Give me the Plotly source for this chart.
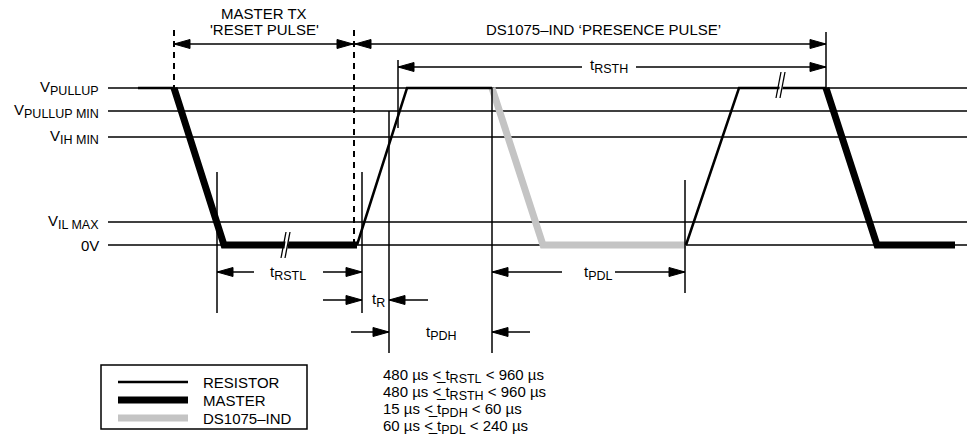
import plotly.graph_objects as go

SUB = 12.5
def sub(s):
    return f'<sub><span style="font-size:{SUB}px">{s}</span></sub>'

# ---------------- data ----------------
level_names = ["V" + sub("PULLUP"), "V" + sub("PULLUP MIN"), "V" + sub("IH MIN"),
               "V" + sub("IL MAX"), "0V"]
level_values = [5.0, 4.27, 3.44, 0.73, 0.0]   # volts (relative)

VP = level_values[0]
# waveform segments (time units, volts)
resistor_pre_t = [138, 174]
resistor_pre_v = [VP, VP]
master1_t = [174, 224, 357]
master1_v = [VP, 0.0, 0.0]
resistor1_t = [357, 407, 492]
resistor1_v = [0.0, VP, VP]
ds_t = [492, 543, 686]
ds_v = [VP, 0.0, 0.0]
resistor2_t = [686, 739, 826]
resistor2_v = [0.0, VP, VP]
master2_t = [826, 877, 955]
master2_v = [VP, 0.0, 0.0]

LE = "&lt;&#818;"
conditions = [
    f"480 µs {LE} t{sub('RSTL')} &lt; 960 µs",
    f"480 µs {LE} t{sub('RSTH')} &lt; 960 µs",
    f"15 µs {LE} t{sub('PDH')} &lt; 60 µs",
    f"60 µs {LE} t{sub('PDL')} &lt; 240 µs",
]
legend_labels = ["RESISTOR", "MASTER", "DS1075–IND"]

# ---------------- geometry helpers ----------------
W, H = 967, 439
S = 31.4          # px per volt
Y0 = 245.0        # pixel row of 0 V
def V(py):        # pixel row -> volts
    return (Y0 - py) / S

FONT = "Liberation Sans, Arial, Helvetica, sans-serif"
FS = 15
BLACK = "#000000"
GRAY = "#c4c4c4"

fig = go.Figure()

def line(xs, ys, width, color=BLACK, dash=None):
    fig.add_trace(go.Scatter(x=xs, y=ys, mode="lines", hoverinfo="skip",
                             line=dict(color=color, width=width, dash=dash),
                             showlegend=False))

# reference level lines
for v in level_values:
    line([108, 967], [v, v], 1.5)

# waveforms
line(resistor_pre_t, resistor_pre_v, 2.5)
line(ds_t, ds_v, 7, GRAY)
line(master1_t, master1_v, 7)
line(resistor1_t, resistor1_v, 2.5)
line(resistor2_t, resistor2_v, 2.5)
line(master2_t, master2_v, 7)

shapes = []
def seg(x0, y0, x1, y1, w=1.5, dash=None, color=BLACK):
    shapes.append(dict(type="line", xref="x", yref="y", x0=x0, y0=V(y0), x1=x1, y1=V(y1),
                       line=dict(color=color, width=w, dash=dash)))

def head(xtip, py, direction):
    # filled triangular arrowhead, direction +1 points right, -1 points left
    L, hw = 16, 4.5
    xb = xtip - direction * L
    path = f"M {xtip},{V(py)} L {xb},{V(py - hw)} L {xb},{V(py + hw)} Z"
    shapes.append(dict(type="path", xref="x", yref="y", path=path,
                       fillcolor=BLACK, line=dict(color=BLACK, width=1)))

# dashed verticals
seg(174, 30, 174, 88, 2, "6px,5px")
seg(354, 30, 354, 245, 2, "6px,5px")

# solid verticals
seg(826, 32, 826, 88)
seg(398, 60, 398, 128)
seg(217, 172, 217, 313)
seg(362, 172, 362, 313)
seg(389, 111, 389, 353)
seg(492, 88, 492, 353)
seg(685, 180, 685, 293)

# top arrows
seg(174, 44, 354, 44); head(174, 44, -1); head(353, 44, 1)
seg(355, 44, 826, 44); head(355, 44, -1); head(826, 44, 1)
# tRSTH
seg(398, 67, 582, 67); seg(636, 67, 826, 67); head(398, 67, -1); head(826, 67, 1)
# tRSTL
seg(217, 272, 254, 272); head(217, 272, -1)
seg(323, 272, 362, 272); head(362, 272, 1)
# tR
seg(323, 300, 362, 300); head(362, 300, 1)
seg(428, 300, 389, 300); head(389, 300, -1)
# tPDH
seg(351, 332, 389, 332); head(389, 332, 1)
seg(530, 332, 492, 332); head(492, 332, -1)
# tPDL
seg(562, 272, 492, 272); head(492, 272, -1)
seg(615, 272, 685, 272); head(685, 272, 1)

# break marks
def brk(xc, ytop, ybot):
    shapes.append(dict(type="path", xref="x", yref="y",
                       path=f"M {xc-4},{V(ybot)} L {xc},{V(ytop)} L {xc+3},{V(ytop)} L {xc-1},{V(ybot)} Z",
                       fillcolor="white", line=dict(width=0)))
    seg(xc - 6, ybot, xc - 1, ytop, 1.3)
    seg(xc - 2, ybot, xc + 3, ytop, 1.3)
brk(287, 232, 258)
brk(782, 72, 98)

# legend box
shapes.append(dict(type="rect", xref="x", yref="y", x0=101, x1=307, y0=V(365), y1=V(429),
                   line=dict(color=BLACK, width=1.5), fillcolor="rgba(0,0,0,0)"))
seg(118, 382, 188, 382, 2.5)
seg(118, 400, 188, 400, 7)
seg(118, 418, 188, 418, 7, None, GRAY)

annotations = []
def txt(x, py, s, anchor="center", size=FS):
    annotations.append(dict(x=x, y=V(py), xref="x", yref="y", text=s, showarrow=False,
                            xanchor=anchor, yanchor="middle",
                            font=dict(family=FONT, size=size, color=BLACK)))

for name, v in zip(level_names, level_values):
    annotations.append(dict(x=101, y=v, xref="x", yref="y", text=name, showarrow=False,
                            xanchor="right", yanchor="middle",
                            font=dict(family=FONT, size=FS, color=BLACK)))

txt(264, 13, "MASTER TX")
txt(264, 29, "'RESET PULSE'")
txt(603, 29, "DS1075–IND ‘PRESENCE PULSE’")
txt(609, 66, "t" + sub("RSTH"))
txt(288, 273, "t" + sub("RSTL"))
txt(378, 300, "t" + sub("R"))
txt(441, 333, "t" + sub("PDH"))
txt(598, 273, "t" + sub("PDL"))

for i, s in enumerate(legend_labels):
    txt(201, 382 + 18 * i, s, "left")
for i, s in enumerate(conditions):
    txt(381, 376 + 17 * i, s, "left")

fig.update_layout(
    width=W, height=H, autosize=False,
    margin=dict(l=0, r=0, t=0, b=0),
    paper_bgcolor="white", plot_bgcolor="white",
    xaxis=dict(range=[0, W], visible=False, fixedrange=True),
    yaxis=dict(range=[V(H), V(0)], visible=False, fixedrange=True),
    shapes=shapes, annotations=annotations, showlegend=False,
)
fig.write_html("out.html", post_script="document.body.style.margin='0px';",
               config={"displayModeBar": False})
